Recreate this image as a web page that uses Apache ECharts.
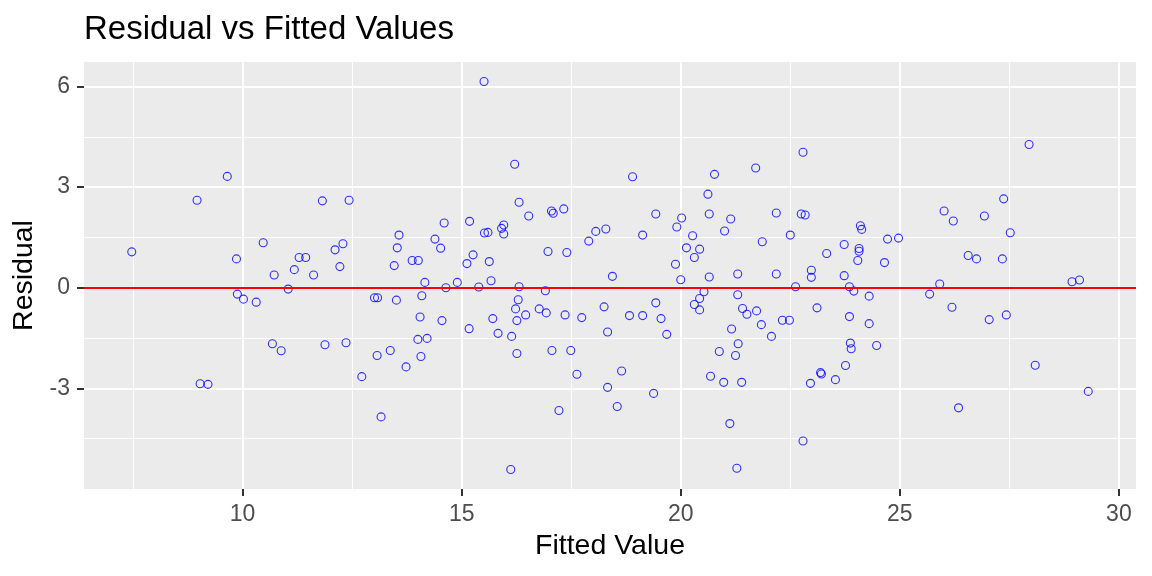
<!DOCTYPE html>
<html><head><meta charset="utf-8">
<script src="https://cdn.jsdelivr.net/npm/echarts@6/dist/echarts.min.js"></script>
<style>html,body{margin:0;padding:0;background:#fff}#c{width:1152px;height:576px}</style>
</head><body><div id="c"></div>
<script>
const fitted = [
7.47,8.96,9.65,9.86,10.47,11.82,12.43,12.29,12.11,11.29,11.44,11.18,12.22,10.72,11.62,11.04,9.88,10.02,10.31,10.68,10.88,11.88,12.36,9.03,9.21,
15.51,16.21,16.31,16.53,17.05,17.09,17.33,13.57,13.53,13.46,13.87,14.01,14.60,14.39,14.52,15.18,15.52,15.60,15.91,15.96,15.96,15.26,15.12,15.63,16.97,17.40,17.90,18.06,18.29,18.44,
14.16,14.64,14.90,15.39,15.67,16.31,16.91,13.01,13.08,13.51,14.09,14.05,14.55,15.17,15.71,16.29,16.23,16.26,16.46,16.77,16.93,17.36,17.74,18.25,18.33,15.83,16.14,14.00,14.21,
13.07,13.37,14.07,13.73,12.72,16.26,17.06,17.49,17.63,18.33,17.22,13.16,16.12,18.55,18.65,
18.90,20.77,21.71,22.79,20.62,19.43,20.65,22.18,22.75,22.84,20.02,19.91,21.14,21.00,20.27,19.13,21.86,22.50,20.13,20.43,20.31,19.88,24.10,24.13,23.73,23.33,24.07,24.07,24.04,
20.00,20.65,21.30,22.18,22.98,22.98,23.73,22.62,23.85,23.95,24.30,20.53,20.43,20.31,20.43,19.43,18.83,19.13,19.55,19.68,21.30,21.41,21.51,21.73,21.84,21.16,22.07,22.32,22.48,23.11,23.85,24.30,
21.31,20.88,21.25,23.87,23.89,24.47,20.68,20.98,21.39,19.38,23.76,23.19,23.21,23.53,22.96,21.12,22.79,21.28,
27.95,27.37,26.01,26.22,26.93,27.52,24.72,24.97,24.65,26.56,26.75,27.34,25.91,28.93,29.10,25.68,26.19,27.04,27.43,28.09,29.30,26.34
];
const residual = [
1.07,2.61,3.32,0.86,1.34,2.59,2.61,1.31,1.13,0.90,0.90,0.54,0.63,0.38,0.38,-0.04,-0.19,-0.34,-0.43,-1.67,-1.88,-1.70,-1.64,-2.86,-2.88,
6.15,3.68,2.55,2.14,2.29,2.22,2.35,1.57,1.19,0.66,0.81,0.81,1.93,1.45,1.18,1.98,1.63,1.65,1.77,1.87,1.60,0.98,0.72,0.78,1.08,1.05,1.39,1.68,1.75,0.34,
0.16,0.00,0.16,0.02,0.21,0.03,-0.09,-0.30,-0.30,-0.37,-0.24,-0.87,-0.98,-1.22,-0.92,-0.36,-0.63,-0.98,-0.81,-0.63,-0.75,-0.81,-0.89,-0.57,-1.32,-1.36,-1.45,-1.54,-1.51,
-2.02,-1.87,-2.05,-2.36,-2.65,-1.96,-1.87,-1.87,-2.58,-2.97,-3.66,-3.85,-5.42,-3.54,-2.48,
3.31,3.38,3.57,4.04,2.79,2.20,2.20,2.23,2.20,2.17,2.08,1.81,2.05,1.69,1.55,1.57,1.37,1.57,1.19,1.15,0.90,0.70,1.85,1.74,1.29,1.02,1.17,1.09,0.81,
0.24,0.32,0.41,0.41,0.52,0.31,0.36,0.03,0.03,-0.10,-0.25,-0.12,-0.32,-0.50,-0.66,-0.45,-0.83,-0.83,-0.92,-1.39,-0.21,-0.62,-0.79,-0.69,-1.10,-1.23,-1.45,-0.97,-0.97,-0.60,-0.86,-1.07,
-1.67,-1.90,-2.02,-1.65,-1.82,-1.72,-2.64,-2.82,-2.82,-3.15,-2.32,-2.53,-2.57,-2.74,-2.85,-4.05,-4.57,-5.38,
4.27,2.65,2.29,1.99,2.14,1.64,1.45,1.48,0.75,0.96,0.86,0.86,0.11,0.18,0.23,-0.19,-0.58,-0.95,-0.81,-2.31,-3.09,-3.58
];
const xTicks = [10, 15, 20, 25, 30];
const xMinor = [7.5, 12.5, 17.5, 22.5, 27.5];
const yTicks = [-3, 0, 3, 6];
const yMinor = [-4.5, -1.5, 1.5, 4.5];
const refLine = [0];

const FONT = '"Liberation Sans", Arial, sans-serif';
const points = fitted.map((x, i) => [x, residual[i]]);
const chart = echarts.init(document.getElementById('c'), null, {renderer: 'canvas'});

function gridMarks(vals, dim, width, color) {
  return vals.map(v => ({[dim]: v, lineStyle: {width: width, color: color, type: 'solid'}}));
}

chart.setOption({
  animation: false,
  backgroundColor: '#ffffff',
  title: {
    text: 'Residual vs Fitted Values',
    left: 84, top: 13, padding: 0,
    textStyle: {fontFamily: FONT, fontSize: 33, fontWeight: 'normal', color: '#000000'}
  },
  grid: {left: 84, right: 16, top: 62, bottom: 87, show: true, backgroundColor: '#EBEBEB', borderWidth: 0},
  xAxis: {
    type: 'value', min: 6.38, max: 30.39, position: 'bottom',
    name: 'Fitted Value', nameLocation: 'middle', nameGap: 43,
    nameTextStyle: {fontFamily: FONT, fontSize: 28.5, color: '#000000'},
    axisLine: {show: false, onZero: false},
    axisTick: {show: true, customValues: xTicks, length: 7, lineStyle: {color: '#333333', width: 2}},
    axisLabel: {customValues: xTicks, margin: 14, fontFamily: FONT, fontSize: 23, color: '#4D4D4D'},
    splitLine: {show: false}
  },
  yAxis: {
    type: 'value', min: -6.0, max: 6.73, position: 'left',
    name: 'Residual', nameLocation: 'middle', nameGap: 44,
    nameTextStyle: {fontFamily: FONT, fontSize: 28.5, color: '#000000'},
    axisLine: {show: false, onZero: false},
    axisTick: {show: true, customValues: yTicks, length: 7, lineStyle: {color: '#333333', width: 2}},
    axisLabel: {customValues: yTicks, margin: 14, fontFamily: FONT, fontSize: 23, color: '#4D4D4D'},
    splitLine: {show: false}
  },
  series: [
    {
      type: 'line', data: [], z: 0, silent: true,
      markLine: {
        z: 0, silent: true, symbol: ['none', 'none'], label: {show: false}, animation: false,
        data: [].concat(
          gridMarks(xMinor, 'xAxis', 1, '#FFFFFF'),
          gridMarks(yMinor, 'yAxis', 1, '#FFFFFF'),
          gridMarks(xTicks, 'xAxis', 2, '#FFFFFF'),
          gridMarks(yTicks, 'yAxis', 2, '#FFFFFF')
        )
      }
    },
    {
      type: 'scatter', data: points, z: 3, symbol: 'circle', symbolSize: 8,
      itemStyle: {color: 'rgba(0,0,0,0)', borderColor: '#0000FF', borderWidth: 1.1},
      emphasis: {disabled: true}
    },
    {
      type: 'line', data: [], z: 4, silent: true,
      markLine: {
        z: 6, silent: true, symbol: ['none', 'none'], label: {show: false}, animation: false,
        data: gridMarks(refLine, 'yAxis', 2, '#FF0000')
      }
    }
  ]
});
</script>
</body></html>
